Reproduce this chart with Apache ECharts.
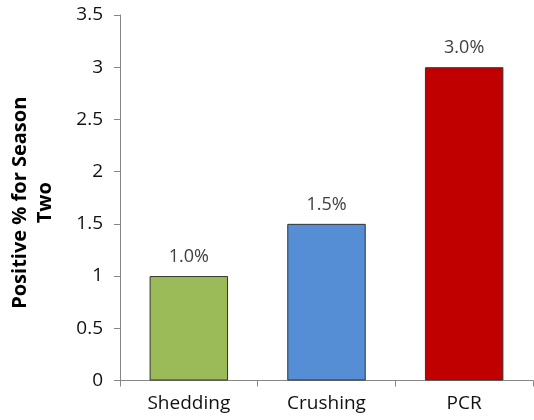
<!DOCTYPE html>
<html>
<head>
<meta charset="utf-8">
<script src="https://cdn.jsdelivr.net/npm/echarts@6/dist/echarts.min.js"></script>
<style>html,body{margin:0;padding:0;background:#fff}#c{width:534px;height:420px}</style>
</head>
<body>
<div id="c"></div>
<script>
const categories = ["Shedding", "Crushing", "PCR"];
const values = [1.0, 1.5, 3.0];
const barColors = ["#9BBB59", "#558ED5", "#C00000"];
const valueLabels = ["1.0%", "1.5%", "3.0%"];
const yTicks = [0, 0.5, 1, 1.5, 2, 2.5, 3, 3.5];

const chart = echarts.init(document.getElementById('c'), null, {renderer: 'canvas'});
const font = "Open Sans";
chart.setOption({
  animation: false,
  grid: {left: 116, top: 15, right: 1, bottom: 39.5},
  xAxis: {
    type: 'category',
    data: categories,
    axisLine: {lineStyle: {color: '#868686', width: 1}},
    axisTick: {show: true, length: 6, lineStyle: {color: '#868686'}},
    axisLabel: {color: '#111', fontSize: 19, fontFamily: font, margin: 14}
  },
  yAxis: {
    type: 'value',
    min: 0, max: 3.5, interval: 0.5,
    name: 'Positive % for Season\nTwo',
    nameLocation: 'middle',
    nameRotate: 90,
    nameGap: 62,
    nameTextStyle: {fontSize: 20, fontWeight: 'bold', fontFamily: font, color: '#000', lineHeight: 25, padding: [0, 10, 0, 0]},
    splitLine: {show: false},
    axisLine: {show: true, lineStyle: {color: '#868686', width: 1}},
    axisTick: {show: true, length: 6, lineStyle: {color: '#868686'}},
    axisLabel: {color: '#111', fontSize: 19, fontFamily: font, margin: 17,
      formatter: v => String(v)}
  },
  series: [{
    type: 'bar',
    barWidth: '57%',
    data: values.map((v, i) => ({
      value: v,
      itemStyle: {color: barColors[i], borderColor: '#333', borderWidth: 1},
      label: {formatter: valueLabels[i]}
    })),
    label: {show: true, position: 'top', distance: 10, color: '#404040', fontSize: 18, fontFamily: font}
  }]
});
</script>
</body>
</html>
